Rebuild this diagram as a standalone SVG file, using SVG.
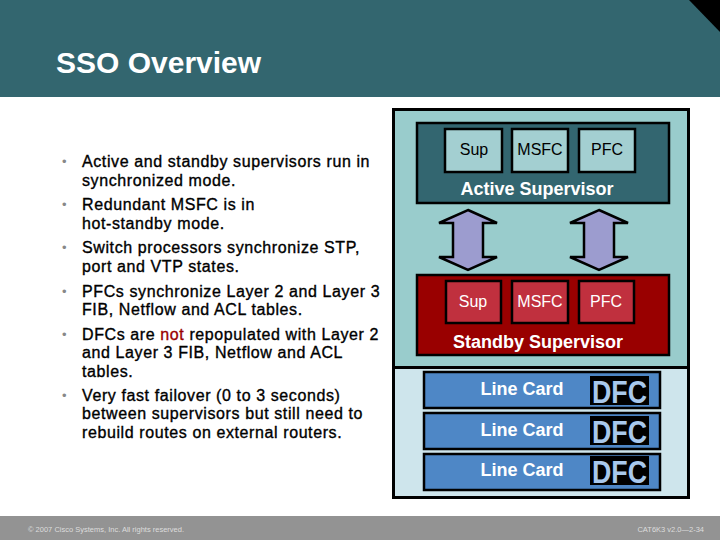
<svg xmlns="http://www.w3.org/2000/svg" width="720" height="540" viewBox="0 0 720 540">
<style>
.bul{font-family:"Liberation Sans",Arial,sans-serif;font-size:16px;letter-spacing:0.6px;fill:#000;stroke:#000;stroke-width:0.35}
.dot{font-family:"Liberation Sans",Arial,sans-serif;font-size:13px;fill:#888}
.lbl{font-family:"Liberation Sans",Arial,sans-serif;font-size:16px;text-anchor:middle}
.big{font-family:"Liberation Sans",Arial,sans-serif;font-size:18px;font-weight:bold;fill:#fff;text-anchor:middle}
.ft{font-family:"Liberation Sans",Arial,sans-serif;font-size:7.5px;fill:#ddd}
.dfc{font-family:"Liberation Sans",Arial,sans-serif;font-size:32px;font-weight:bold;fill:#A8C8EC}
.arrow{fill:#9C9CCF;stroke:#000;stroke-width:2.5;stroke-linejoin:miter}
</style>
<rect x="0" y="0" width="720" height="540" fill="#fff"/>
<g id="header">
<rect x="0" y="0" width="720" height="97" fill="#33666F"/>
<polygon points="689,0 720,0 720,32" fill="#000"/>
<text x="56" y="73" font-family="'Liberation Sans',Arial,sans-serif" font-size="30" font-weight="bold" fill="#fff">SSO Overview</text>
</g>
<g id="footer">
<rect x="0" y="516" width="720" height="24" fill="#939393"/>
<text class="ft" x="28" y="532">© 2007 Cisco Systems, Inc. All rights reserved.</text>
<text class="ft" x="704" y="532" text-anchor="end">CAT6K3 v2.0—2-34</text>
</g>
<g id="bullets">
<text class="dot" x="62" y="166">•</text>
<text class="bul" x="82" y="167">Active and standby supervisors run in</text>
<text class="bul" x="82" y="186">synchronized mode.</text>
<text class="dot" x="62" y="209">•</text>
<text class="bul" x="82" y="210">Redundant MSFC is in</text>
<text class="bul" x="82" y="229">hot-standby mode.</text>
<text class="dot" x="62" y="252">•</text>
<text class="bul" x="82" y="253">Switch processors synchronize STP,</text>
<text class="bul" x="82" y="272">port and VTP states.</text>
<text class="dot" x="62" y="296">•</text>
<text class="bul" x="82" y="297">PFCs synchronize Layer 2 and Layer 3</text>
<text class="bul" x="82" y="315">FIB, Netflow and ACL tables.</text>
<text class="dot" x="62" y="339">•</text>
<text class="bul" x="82" y="340">DFCs are <tspan fill="#990000" stroke="#990000">not</tspan> repopulated with Layer 2</text>
<text class="bul" x="82" y="358">and Layer 3 FIB, Netflow and ACL</text>
<text class="bul" x="82" y="377">tables.</text>
<text class="dot" x="62" y="400">•</text>
<text class="bul" x="82" y="401">Very fast failover (0 to 3 seconds)</text>
<text class="bul" x="82" y="419">between supervisors but still need to</text>
<text class="bul" x="82" y="438">rebuild routes on external routers.</text>
</g>
<g id="chassis">
<rect x="393.5" y="109.5" width="295" height="258" fill="#99CCCC" stroke="#000" stroke-width="3"/>
<rect x="393.5" y="367.5" width="295" height="130" fill="#CEE5EC" stroke="#000" stroke-width="3"/>
</g>
<g id="active">
<rect x="417" y="123" width="252" height="80" fill="#336670" stroke="#000" stroke-width="2.5"/>
<rect x="445" y="129" width="57" height="43" fill="#A3CFD1" stroke="#000" stroke-width="2.5"/>
<rect x="512" y="129" width="56" height="43" fill="#A3CFD1" stroke="#000" stroke-width="2.5"/>
<rect x="579" y="129" width="56" height="43" fill="#A3CFD1" stroke="#000" stroke-width="2.5"/>
<text class="lbl" x="474" y="155" fill="#000">Sup</text>
<text class="lbl" x="540" y="155" fill="#000">MSFC</text>
<text class="lbl" x="607" y="155" fill="#000">PFC</text>
<text class="big" x="537" y="195">Active Supervisor</text>
</g>
<g id="connectors">
<polygon class="arrow" points="468,210 497,223 483,223 483,257 497,257 468,270 439,257 453,257 453,223 439,223"/>
<polygon class="arrow" points="599,210 628,223 614,223 614,257 628,257 599,270 570,257 584,257 584,223 570,223"/>
</g>
<g id="standby">
<rect x="417" y="275" width="252" height="80" fill="#990000" stroke="#000" stroke-width="2.5"/>
<rect x="446" y="281" width="55" height="42" fill="#C0303E" stroke="#000" stroke-width="2.5"/>
<rect x="512" y="281" width="56" height="42" fill="#C0303E" stroke="#000" stroke-width="2.5"/>
<rect x="579" y="281" width="55" height="42" fill="#C0303E" stroke="#000" stroke-width="2.5"/>
<text class="lbl" x="473" y="307" fill="#fff">Sup</text>
<text class="lbl" x="540" y="307" fill="#fff">MSFC</text>
<text class="lbl" x="606" y="307" fill="#fff">PFC</text>
<text class="big" x="538" y="348">Standby Supervisor</text>
</g>
<g id="linecard1">
<rect x="424" y="372" width="236" height="36" fill="#4E87C6" stroke="#000" stroke-width="2.5"/>
<rect x="590" y="376" width="59" height="29" fill="#000"/>
<text class="dfc" x="592" y="403" textLength="55" lengthAdjust="spacingAndGlyphs">DFC</text>
<text class="big" x="522" y="395">Line Card</text>
</g>
<g id="linecard2">
<rect x="424" y="413" width="236" height="36" fill="#4E87C6" stroke="#000" stroke-width="2.5"/>
<rect x="590" y="416" width="59" height="29" fill="#000"/>
<text class="dfc" x="592" y="443" textLength="55" lengthAdjust="spacingAndGlyphs">DFC</text>
<text class="big" x="522" y="436">Line Card</text>
</g>
<g id="linecard3">
<rect x="424" y="454" width="236" height="36" fill="#4E87C6" stroke="#000" stroke-width="2.5"/>
<rect x="590" y="456" width="59" height="29" fill="#000"/>
<text class="dfc" x="592" y="483" textLength="55" lengthAdjust="spacingAndGlyphs">DFC</text>
<text class="big" x="522" y="476">Line Card</text>
</g>
</svg>
